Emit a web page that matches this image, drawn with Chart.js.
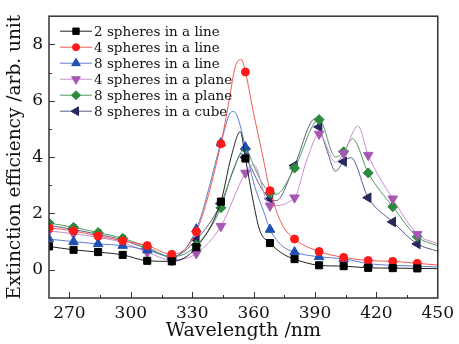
<!DOCTYPE html>
<html>
<head>
<meta charset="utf-8">
<script src="https://cdn.jsdelivr.net/npm/chart.js@4.4.1/dist/chart.umd.min.js"></script>
<style>
	html, body { margin: 0; padding: 0; background: #fff; }
	#wrap { width: 459px; height: 344px; }
</style>
</head>
<body>
<div id="wrap"><canvas id="chart" width="459" height="344"></canvas></div>
<script>
// wavelengths where the markers sit
const markerNm = [260, 272, 284, 296, 308, 320, 332, 344, 356, 368, 380, 392, 404, 416, 428, 440];

const seriesNames = [
	'2 spheres in a line',
	'4 spheres in a line',
	'8 spheres in a line',
	'4 spheres in a plane',
	'8 spheres in a plane',
	'8 spheres in a cube',
];

const twoLineNm = [260, 272, 284, 296, 308, 320, 332, 344, 349, 353.5, 356, 360, 363, 368, 374, 380, 392, 404, 416, 428, 440, 450];
const twoLineVal = [0.83, 0.71, 0.63, 0.53, 0.32, 0.30, 0.80, 2.42, 4.0, 4.9, 3.95, 2.35, 1.4, 0.95, 0.58, 0.38, 0.16, 0.13, 0.07, 0.06, 0.05, 0.04];

const fourLineNm = [260, 272, 284, 296, 308, 320, 332, 344, 348, 351, 354, 356, 360, 364, 368, 374, 380, 392, 404, 416, 428, 440, 450];
const fourLineVal = [1.49, 1.38, 1.2, 1.03, 0.86, 0.55, 1.35, 4.47, 6.0, 7.2, 7.46, 7.02, 5.55, 4.2, 2.81, 1.6, 1.09, 0.65, 0.44, 0.33, 0.30, 0.23, 0.17];

const eightLineNm = [260, 272, 284, 296, 308, 320, 332, 344, 348.5, 350, 352, 356, 360, 365.5, 368, 374, 380, 392, 404, 416, 428, 440, 450];
const eightLineVal = [1.09, 1.0, 0.92, 0.86, 0.70, 0.46, 1.44, 4.5, 5.56, 5.62, 5.45, 4.35, 3.1, 1.95, 1.43, 0.85, 0.63, 0.46, 0.39, 0.22, 0.16, 0.13, 0.10];

const fourPlaneNm = [260, 272, 284, 296, 308, 320, 332, 344, 356, 360, 368, 380, 386, 392, 400, 404, 411, 416, 428, 440, 450];
const fourPlaneVal = [1.38, 1.28, 1.15, 0.97, 0.63, 0.34, 0.58, 1.55, 3.44, 3.73, 2.27, 2.56, 3.9, 4.82, 3.82, 4.13, 5.1, 4.07, 2.52, 1.26, 0.92];

const eightPlaneNm = [260, 272, 284, 296, 308, 320, 332, 344, 350, 356, 360, 364, 368, 371, 380, 392, 400, 404, 408.3, 416, 428, 440, 450];
const eightPlaneVal = [1.66, 1.51, 1.32, 1.12, 0.80, 0.46, 0.87, 2.2, 3.55, 4.3, 3.7, 3.1, 2.73, 2.68, 3.61, 5.33, 4.0, 4.19, 4.65, 3.44, 2.24, 1.17, 0.85];

const eightCubeNm = [260, 272, 284, 296, 308, 320, 332, 344, 350, 354, 356, 364, 368, 371, 380, 390, 392, 396, 400, 404, 407.5, 416, 428, 440, 450];
const eightCubeVal = [1.58, 1.43, 1.26, 1.06, 0.75, 0.46, 1.07, 2.35, 3.5, 4.12, 3.99, 2.87, 2.52, 2.45, 3.7, 5.36, 5.07, 4.2, 3.5, 3.84, 3.98, 2.56, 1.7, 0.92, 0.66];

const xTickLabels = [270, 300, 330, 360, 390, 420, 450];
const xMinorTicks = [285, 315, 345, 375, 405, 435];
const yTickLabels = [0, 2, 4, 6, 8];
const yMinorTicks = [1, 3, 5, 7];

const serif = '"DejaVu Serif", "Liberation Serif", serif';

const toPoints = (nm, val) => nm.map((x, i) => ({ x, y: val[i] }));

const makeSet = (label, nm, val, line, fill, style, rotation, radius) => ({
	label,
	data: toPoints(nm, val),
	borderColor: line,
	borderWidth: 1,
	pointStyle: style,
	pointRotation: rotation,
	pointBackgroundColor: fill,
	pointBorderColor: fill,
	pointBorderWidth: 1,
	pointRadius: (ctx) => (ctx.raw && markerNm.includes(ctx.raw.x) ? radius : 0),
	legendRadius: radius,
	cubicInterpolationMode: 'monotone',
	fill: false,
});

const datasets = [
	makeSet(seriesNames[0], twoLineNm, twoLineVal, '#222222', '#000000', 'rect', 0, 5),
	makeSet(seriesNames[1], fourLineNm, fourLineVal, '#f25a50', '#ff1a1a', 'circle', 0, 4),
	makeSet(seriesNames[2], eightLineNm, eightLineVal, '#5a7fcf', '#1f4fb0', 'triangle', 0, 5.5),
	makeSet(seriesNames[3], fourPlaneNm, fourPlaneVal, '#c98ad0', '#a857b5', 'triangle', 180, 5.5),
	makeSet(seriesNames[4], eightPlaneNm, eightPlaneVal, '#4e9a5c', '#2b8a3c', 'rectRot', 0, 5),
	makeSet(seriesNames[5], eightCubeNm, eightCubeVal, '#5c5c88', '#26285e', 'triangle', 270, 5.5),
];

const setTicks = (major, minor) => (scale) => {
	scale.ticks = [...major, ...minor].sort((a, b) => a - b).map((value) => ({ value }));
};

// frame round the plot plus inward ticks on left and bottom
const frameTicks = {
	id: 'frameTicks',
	afterDatasetsDraw(chart) {
		const { ctx, chartArea: a, scales: { x, y } } = chart;
		ctx.save();
		ctx.strokeStyle = '#333';
		ctx.lineWidth = 1.5;
		ctx.strokeRect(a.left, a.top, a.right - a.left, a.bottom - a.top);
		ctx.lineWidth = 1;
		ctx.beginPath();
		x.ticks.forEach((t) => {
			if (t.value <= x.min || t.value >= x.max) return;
			const px = Math.round(x.getPixelForValue(t.value)) + 0.5;
			const len = xTickLabels.includes(t.value) ? 6 : 3;
			ctx.moveTo(px, a.bottom);
			ctx.lineTo(px, a.bottom - len);
		});
		y.ticks.forEach((t) => {
			if (t.value <= y.min || t.value >= y.max) return;
			const py = Math.round(y.getPixelForValue(t.value)) + 0.5;
			const len = yTickLabels.includes(t.value) ? 6 : 3;
			ctx.moveTo(a.left, py);
			ctx.lineTo(a.left + len, py);
		});
		ctx.stroke();
		ctx.restore();
	},
};

const legendInside = {
	id: 'legendInside',
	afterDraw(chart) {
		const { ctx, chartArea: a } = chart;
		ctx.save();
		ctx.font = '13.5px ' + serif;
		ctx.textBaseline = 'middle';
		chart.data.datasets.forEach((ds, i) => {
			const yy = a.top + 15 + i * 16;
			const x0 = a.left + 11;
			ctx.strokeStyle = ds.borderColor;
			ctx.lineWidth = 1;
			ctx.beginPath();
			ctx.moveTo(x0, yy);
			ctx.lineTo(x0 + 32, yy);
			ctx.stroke();
			ctx.fillStyle = ds.pointBackgroundColor;
			ctx.strokeStyle = ds.pointBorderColor;
			Chart.helpers.drawPoint(ctx, {
				pointStyle: ds.pointStyle,
				rotation: ds.pointRotation,
				radius: ds.legendRadius - 0.5,
				borderWidth: 1,
			}, x0 + 16, yy);
			ctx.fillStyle = '#111';
			ctx.fillText(ds.label, x0 + 34, yy + 1);
		});
		ctx.restore();
	},
};

new Chart(document.getElementById('chart'), {
	type: 'line',
	data: { datasets },
	plugins: [frameTicks, legendInside],
	options: {
		responsive: false,
		animation: false,
		events: [],
		layout: { padding: { top: 8, right: 18, left: 0, bottom: 0 } },
		plugins: {
			legend: { display: false },
			tooltip: { enabled: false },
		},
		scales: {
			x: {
				type: 'linear',
				min: 260,
				max: 450,
				afterBuildTicks: setTicks(xTickLabels, xMinorTicks),
				afterFit: (scale) => { scale.height = 46; },
				grid: { display: false, drawTicks: false },
				border: { display: false },
				ticks: {
					autoSkip: false,
					maxRotation: 0,
					padding: 5,
					color: '#111',
					font: { family: serif, size: 17 },
					callback: (v) => (xTickLabels.includes(v) ? String(v) : ''),
				},
				title: {
					display: true,
					text: 'Wavelength /nm',
					color: '#111',
					font: { family: serif, size: 19 },
					padding: { top: 0, bottom: 2 },
				},
			},
			y: {
				min: -1,
				max: 9,
				afterBuildTicks: setTicks(yTickLabels, yMinorTicks),
				afterFit: (scale) => { scale.width = 49; },
				grid: { display: false, drawTicks: false },
				border: { display: false },
				ticks: {
					autoSkip: false,
					padding: 6,
					color: '#111',
					font: { family: serif, size: 17 },
					callback: (v) => (yTickLabels.includes(v) ? String(v) : ''),
				},
				title: {
					display: true,
					text: 'Extinction efficiency /arb. unit',
					color: '#111',
					font: { family: serif, size: 18.5 },
					padding: { top: 4, bottom: 0 },
				},
			},
		},
	},
});
</script>
</body>
</html>
